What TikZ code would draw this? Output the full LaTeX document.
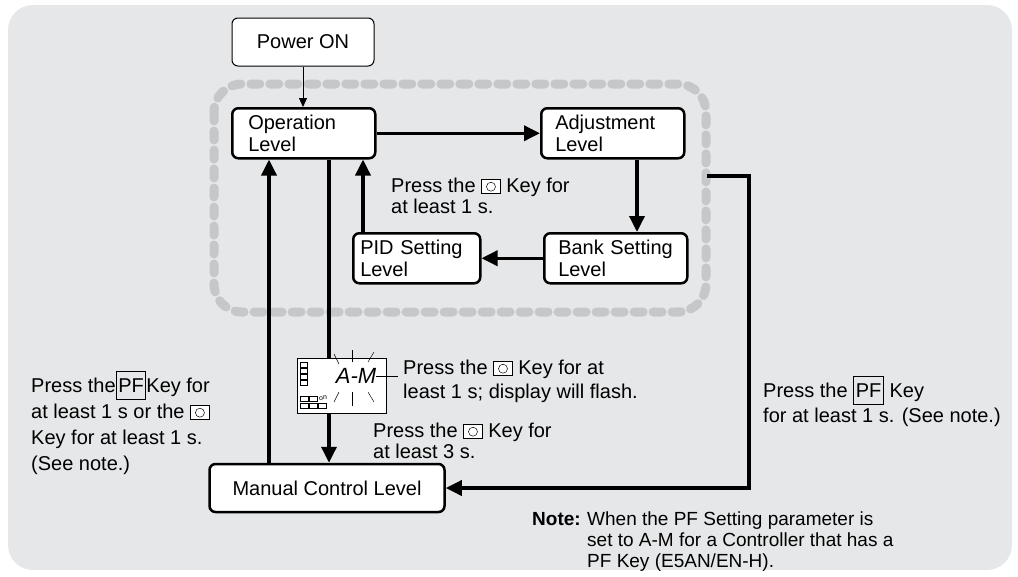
\documentclass[tikz,border=0pt]{standalone}
\usepackage{fontspec}
\setmainfont{Liberation Sans}
\usetikzlibrary{arrows.meta}
\newcommand{\okey}{\tikz[baseline=1pt,x=1pt,y=1pt]{\draw[line width=0.5pt,fill=white] (0,0) rectangle (19,14);\draw[line width=0.5pt] (9.5,7) circle (4.5);}}
\newcommand{\pfkey}{\tikz[baseline=(p.base)]{\node[draw,line width=1.2pt,inner sep=2pt,minimum height=28pt] (p) {PF};}}
\definecolor{bg}{HTML}{E6E7E8}
\definecolor{dashgray}{HTML}{C6C7C8}
\begin{document}
\begin{tikzpicture}[x=1pt,y=-1pt,
  box/.style={draw,line width=2.5pt,rounded corners=6pt,fill=white,font=\fontsize{20}{22}\selectfont,align=left,anchor=north west,inner ysep=0pt},
  arr/.style={line width=3.5pt,-{Triangle[length=16pt,width=15pt]}},
  txt/.style={font=\fontsize{20}{24}\selectfont,align=left,anchor=north west,inner sep=0pt}]
\useasboundingbox (0,0) rectangle (1018,576);
\fill[bg,rounded corners=25pt] (8,5) rectangle (1012,570);
\draw[dashgray,line width=9pt,dash pattern=on 9pt off 10pt,line cap=round,rounded corners=28pt] (214,84) rectangle (706,312);
% boxes
\node[box,line width=1pt,minimum width=142pt,minimum height=48pt,align=center,anchor=center] (pw) at (303,42) {Power ON};
\node[box,minimum width=143pt,minimum height=50pt,text width=111pt,inner xsep=16pt] (op) at (231,107) {Operation\\Level};
\node[box,minimum width=143pt,minimum height=50pt,text width=115pt,inner xsep=14pt] (adj) at (540,107) {Adjustment\\Level};
\node[box,minimum width=143pt,minimum height=50pt,text width=115pt,inner xsep=14pt] (bank) at (543,232) {Bank Setting\\Level};
\node[box,minimum width=127pt,minimum height=50pt,text width=113pt,inner xsep=7pt] (pid) at (352,232) {PID Setting\\Level};
\node[box,minimum width=235pt,minimum height=48pt,align=center,anchor=center] (man) at (327,488) {Manual Control Level};
% arrows
\draw[line width=1pt,-{Triangle[length=9pt,width=8pt]}] (pw.south) -- (op.north -| pw.south);
\draw[arr] (op.east) -- (adj.west);
\draw[arr] (adj.south -| 637,0) -- (bank.north -| 637,0);
\draw[arr] (bank.west) -- (pid.east);
\draw[arr] (pid.north -| 363,0) -- (op.south -| 363,0);
\draw[arr] (man.north -| 269,0) -- (op.south -| 269,0);
\draw[arr] (op.south -| 329,0) -- (man.north -| 329,0);
\coordinate (c1) at (707,176);
\draw[arr] (c1) -- (749,176) -- (749,488) -- (man.east);
% LCD
\node[draw,line width=0.7pt,fill=white,minimum width=89pt,minimum height=55pt,inner sep=0pt] (lcd) at (341.5,385.5) {};
\begin{scope}[line width=0.5pt]
\foreach \yy in {362,368,374,380} \draw (300,\yy) rectangle (307,\yy+5);
\foreach \xx in {300,309,318} \draw (\xx,403) rectangle (\xx+8,408);
\foreach \xx in {300,309} \draw (\xx,396) rectangle (\xx+8,401);
\node[font=\fontsize{7}{7}\selectfont,inner sep=0pt] at (323,398) {o\raisebox{1pt}{n}};
\node[font=\fontsize{22}{22}\selectfont\itshape,inner sep=0pt] (am) at (356,376) {A-M};
\draw (339,364)--(334,354); \draw (352,362)--(352,350); \draw (368,362)--(374,352);
\draw (339,392)--(334,402); \draw (352,392)--(352,406); \draw (368,392)--(374,402);
\draw (376,376)--(398,376);
\end{scope}
% texts
\node[txt,font=\fontsize{20}{21}\selectfont] (t1) at (391,178) {Press the \okey\ Key for\\at least 1 s.};
\node[txt] (t2) at (403,360) {Press the \okey\ Key for at\\least 1 s; display will flash.};
\node[txt,font=\fontsize{20}{21}\selectfont] (t3) at (373,423) {Press the \okey\ Key for\\at least 3 s.};
\node[txt,font=\fontsize{20}{26}\selectfont] (t4) at (31,371) {Press the\pfkey Key for\\at least 1 s or the \okey\\Key for at least 1 s.\\(See note.)};
\node[txt,font=\fontsize{20}{25}\selectfont] (t5) at (763,376) {Press the \pfkey\ Key\\for at least 1 s. (See note.)};
\node[txt,font=\fontsize{19}{21}\selectfont\bfseries] (n1) at (532,512) {Note:};
\node[txt,font=\fontsize{19}{21}\selectfont] (n2) at (587,512) {When the PF Setting parameter is\\set to A-M for a Controller that has a\\PF Key (E5AN/EN-H).};
\end{tikzpicture}
\end{document}
